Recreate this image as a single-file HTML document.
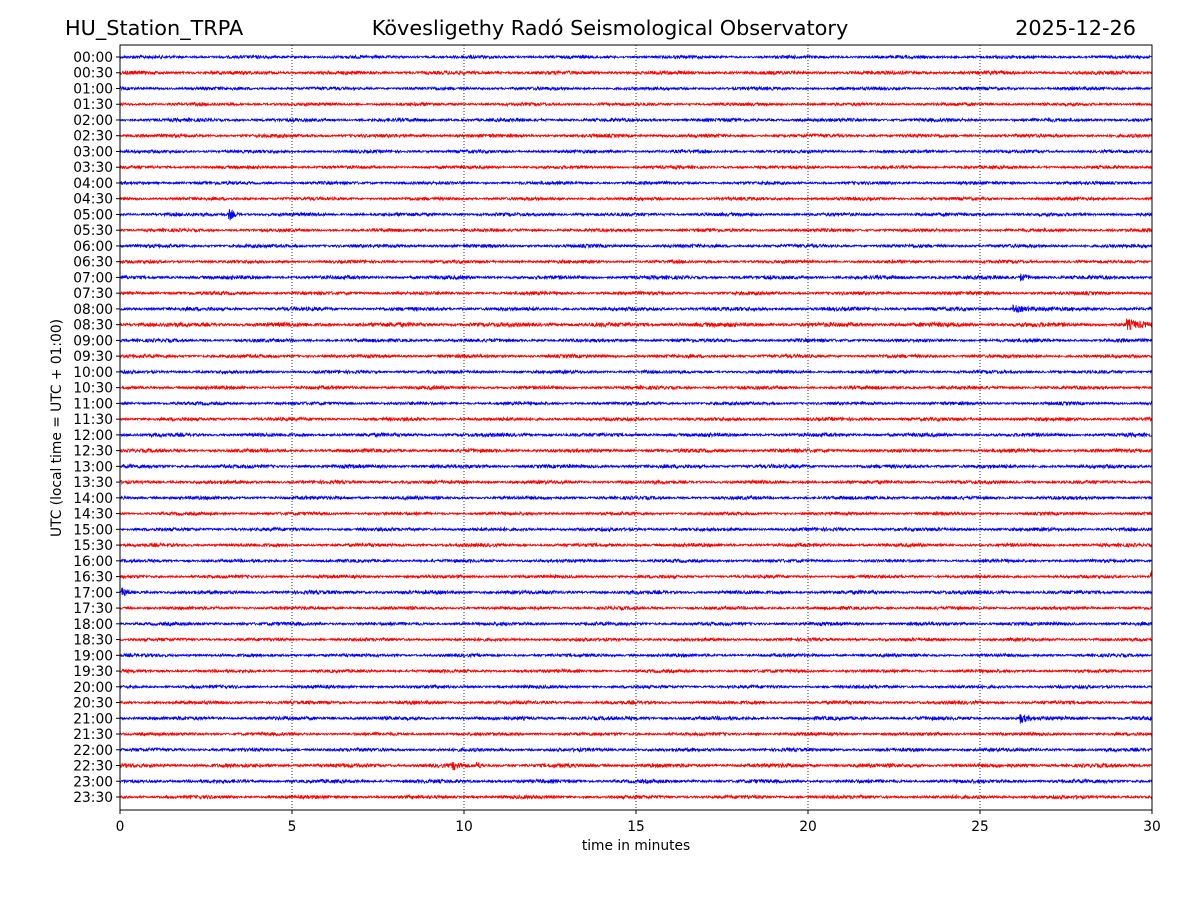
<!DOCTYPE html>
<html><head><meta charset="utf-8">
<style>
html,body{margin:0;padding:0;background:#fff;}
svg{display:block;font-family:"DejaVu Sans","Liberation Sans",sans-serif;}
</style></head>
<body>
<svg id="chart" width="1200" height="900" viewBox="0 0 1200 900">
  <text x="65" y="35" font-size="20.8">HU_Station_TRPA</text>
  <text x="610" y="35" font-size="20.8" text-anchor="middle">Kövesligethy Radó Seismological Observatory</text>
  <text x="1136" y="35" font-size="20.8" text-anchor="end">2025-12-26</text>
  <g id="grid"></g>
  <g id="traces"></g>
  <rect x="120" y="45" width="1032" height="765" fill="none" stroke="#000" stroke-width="1"/>
  <g id="xaxis"></g>
  <g id="yaxis"></g>
  <text x="636" y="850" font-size="13.8" text-anchor="middle">time in minutes</text>
  <text transform="translate(61,428) rotate(-90)" font-size="13.8" text-anchor="middle">UTC (local time = UTC + 01:00)</text>
</svg>
<script>
const rowLabels = [];
for (let h = 0; h < 24; h++) { const hh = String(h).padStart(2,'0'); rowLabels.push(hh+':00', hh+':30'); }
const xTicks = [0,5,10,15,20,25,30];
const noiseAmp = [1.3,1.5,1.3,1.3,1.4,1.4,1.3,1.3,1.3,1.3,1.4,1.3,1.4,1.3,1.5,1.4,1.5,1.8,1.4,1.4,1.3,1.4,1.3,1.4,1.5,1.5,1.5,1.4,1.4,1.3,1.4,1.4,1.3,1.3,1.5,1.3,1.4,1.3,1.3,1.3,1.3,1.4,1.5,1.3,1.4,1.6,1.5,1.4];
const eventRows = [10,14,16,17,33,34,42,45,45];
const eventTimes = [3.2,26.2,26.0,29.3,30.0,0.1,26.2,9.7,10.4];
const eventAmps = [5,3,3,4,6,3,4,3,3];
const eventDur = [0.3,0.5,1.0,0.8,0.2,0.3,0.4,0.4,0.2];

const NS='http://www.w3.org/2000/svg';
const X0=120,X1=1152,Y0=57,DY=(797-57)/47;
const xs=m=>X0+(X1-X0)*m/30;
const ys=i=>Y0+i*DY;
function mk(t,a,p){const e=document.createElementNS(NS,t);for(const k in a)e.setAttribute(k,a[k]);p.appendChild(e);return e;}
const grid=document.getElementById('grid'),xa=document.getElementById('xaxis'),ya=document.getElementById('yaxis'),tr=document.getElementById('traces');
xTicks.forEach(t=>{
  if(t>0&&t<30){const l=mk('line',{x1:xs(t),x2:xs(t),y1:45,y2:810,stroke:'#000','stroke-width':0.8,'stroke-dasharray':'1,2'},grid);
  
  }
  const k=mk('line',{x1:xs(t),x2:xs(t),y1:810,y2:814,stroke:'#000'},xa);
  
  
  const s=mk('text',{x:xs(t),y:831,'font-size':13.8,'text-anchor':'middle'},xa);s.textContent=t;
  
  
});
// deterministic pseudo-noise generator for waveform texture
let seed=12345;function rnd(){seed=(seed*1103515245+12345)&0x7fffffff;return seed/0x7fffffff-0.5;}
rowLabels.forEach((lab,i)=>{
  const y=ys(i);
  const k=mk('line',{x1:116,x2:120,y1:y,y2:y,stroke:'#000'},ya);
  
  
  const s=mk('text',{x:113,y:y+5,'font-size':13.8,'text-anchor':'end'},ya);s.textContent=lab;
  
  
  const N=3000;let pts=[];
  for(let j=0;j<=N;j++){
    const m=30*j/N;let a=noiseAmp[i]*(1+0.3*Math.sin(j*0.02+i));
    eventRows.forEach((r,e)=>{if(r===i){const d=(m-eventTimes[e]);if(d>=-0.05&&d<eventDur[e])a+=eventAmps[e]*Math.exp(-Math.max(d,0)/(eventDur[e]*0.4));}});
    pts.push(xs(m).toFixed(2)+','+(y+rnd()*2*a).toFixed(1));
  }
  const p=mk('polyline',{points:pts.join(' '),fill:'none',stroke:i%2?'#ff0000':'#0000ff','stroke-width':0.8},tr);
  
  
});
</script>
</body></html>
